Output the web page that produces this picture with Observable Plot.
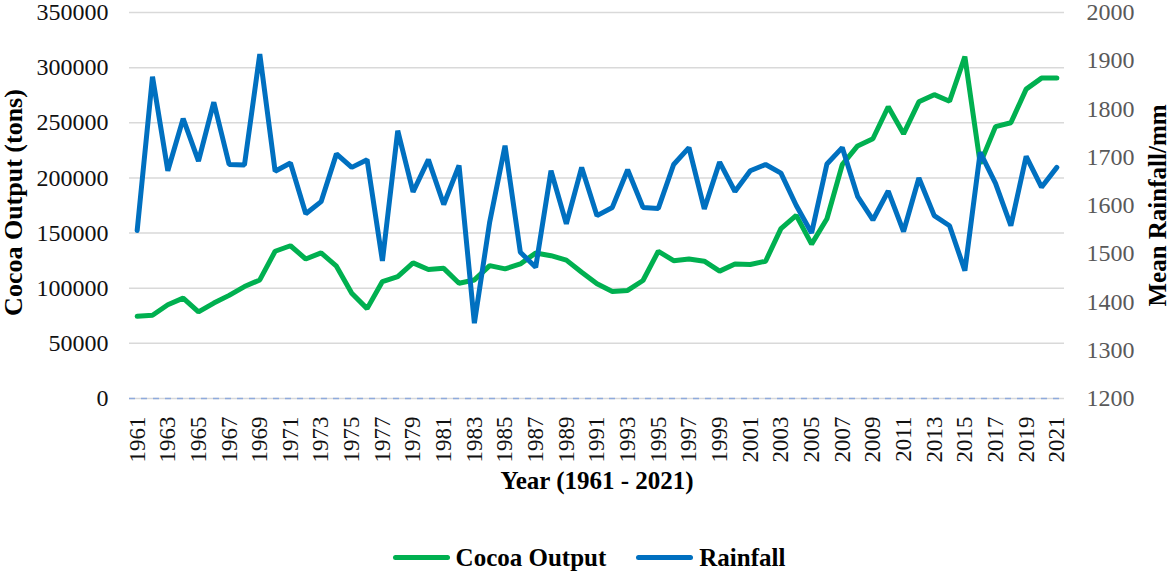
<!DOCTYPE html>
<html>
<head>
<meta charset="utf-8">
<script src="https://cdn.jsdelivr.net/npm/d3@7"></script>
<script src="https://cdn.jsdelivr.net/npm/@observablehq/plot@0.6"></script>
<style>
  html, body { margin: 0; padding: 0; background: #fff; }
  #wrap { width: 1170px; height: 573px; position: relative; font-family: "Liberation Serif", "Times New Roman", serif; }
  #legend { position: absolute; left: 4px; top: 536px; width: 1170px; height: 43px; display: flex; justify-content: center; align-items: center; font-weight: bold; font-size: 25px; color: #000; }
  .item { display: flex; align-items: center; }
  .swatch { width: 57px; height: 5px; border-radius: 3px; margin-right: 6px; }
  svg text { font-family: "Liberation Serif", "Times New Roman", serif; }
</style>
</head>
<body>
<div id="wrap"><div id="chart"></div>
<div id="legend">
  <div class="item"><div class="swatch" style="background:#00b050"></div><span>Cocoa Output</span></div>
  <div class="item" style="margin-left:30px"><div class="swatch" style="background:#0070c0"></div><span>Rainfall</span></div>
</div>
</div>
<script>
const years = [1961,1962,1963,1964,1965,1966,1967,1968,1969,1970,1971,1972,1973,1974,1975,1976,1977,1978,1979,1980,
  1981,1982,1983,1984,1985,1986,1987,1988,1989,1990,1991,1992,1993,1994,1995,1996,1997,1998,1999,2000,
  2001,2002,2003,2004,2005,2006,2007,2008,2009,2010,2011,2012,2013,2014,2015,2016,2017,2018,2019,2020,2021];
const cocoaOutput = [74500,75500,85000,91000,78500,86500,93500,101500,107500,133500,138500,126500,132000,120000,95500,81500,106000,110500,123000,117000,
  118000,104500,107500,120500,117500,122000,132000,129500,125500,114500,104000,97000,98000,107000,133500,125000,126500,124500,115500,122000,
  121500,124500,154000,166000,140000,163000,212000,229000,235500,264500,240000,269000,275500,269500,310000,213000,246500,250000,280500,290500,290500];
const rainfall = [1548,1867,1672,1780,1692,1814,1685,1684,1914,1671,1688,1583,1608,1707,1679,1695,1485,1755,1628,1695,
  1602,1683,1356,1566,1724,1503,1472,1672,1562,1679,1579,1596,1674,1596,1594,1685,1720,1593,1690,1629,
  1672,1685,1667,1600,1543,1686,1720,1619,1570,1630,1546,1657,1579,1558,1465,1710,1646,1558,1702,1638,1679];
const leftTicks = [0,50000,100000,150000,200000,250000,300000,350000];
const rightTicks = [1200,1300,1400,1500,1600,1700,1800,1900,2000];
const xTicks = [1961,1963,1965,1967,1969,1971,1973,1975,1977,1979,1981,1983,1985,1987,1989,1991,1993,1995,1997,1999,2001,2003,2005,2007,2009,2011,2013,2015,2017,2019,2021];

const leftMax = 350000, rMin = 1200, rMax = 2000;
const toLeft = r => (r - rMin) / (rMax - rMin) * leftMax;

const cocoaData = years.map((y, i) => ({year: y, value: cocoaOutput[i]}));
const rainData = years.map((y, i) => ({year: y, value: toLeft(rainfall[i])}));

const fontFam = "'Liberation Serif', 'Times New Roman', serif";

const plot = Plot.plot({
  width: 1170,
  height: 530,
  marginLeft: 129,
  marginRight: 106,
  marginTop: 12,
  marginBottom: 132,
  style: {fontFamily: fontFam, background: "#fff", overflow: "visible"},
  x: {type: "linear", domain: [1960.5, 2021.5]},
  y: {domain: [0, leftMax]},
  marks: [
    Plot.ruleY(leftTicks, {stroke: "#d9d9d9", strokeWidth: 1.5}),
    Plot.ruleY([0], {stroke: "#8faadc", strokeWidth: 1.5, strokeDasharray: "6,6"}),
    Plot.lineY(cocoaData, {x: "year", y: "value", stroke: "#00b050", strokeWidth: 5, strokeLinejoin: "miter", strokeLinecap: "round"}),
    Plot.lineY(rainData, {x: "year", y: "value", stroke: "#0070c0", strokeWidth: 5, strokeLinejoin: "miter", strokeLinecap: "round"}),
    Plot.axisY(leftTicks, {anchor: "left", tickSize: 0, tickPadding: 21, fontSize: 24, fontFamily: fontFam, fill: "#111", label: null, tickFormat: d => String(d)}),
    Plot.axisY(rightTicks.map(toLeft), {anchor: "right", tickSize: 0, tickPadding: 22, fontSize: 24, fontFamily: fontFam, fill: "#595959", label: null,
      tickFormat: d => String(Math.round(rMin + d / leftMax * (rMax - rMin)))}),
    Plot.axisX(xTicks, {anchor: "bottom", tickSize: 0, tickPadding: 18, tickRotate: -90, fontSize: 23, fontFamily: fontFam, fill: "#111", label: null, tickFormat: d => String(d)}),
    Plot.text(["Cocoa Output (tons)"], {frameAnchor: "left", dx: -116, dy: -3, rotate: -90, textAnchor: "middle", fontSize: 26, fontWeight: "bold", fontFamily: fontFam, fill: "#000"}),
    Plot.text(["Mean Rainfall/mm"], {frameAnchor: "right", dx: 93, rotate: -90, textAnchor: "middle", fontSize: 25, fontWeight: "bold", fontFamily: fontFam, fill: "#000"}),
    Plot.text(["Year (1961 - 2021)"], {frameAnchor: "bottom", dy: 90, fontSize: 25, fontWeight: "bold", fontFamily: fontFam, fill: "#000"})
  ]
});
document.getElementById("chart").appendChild(plot);
</script>
</body>
</html>
